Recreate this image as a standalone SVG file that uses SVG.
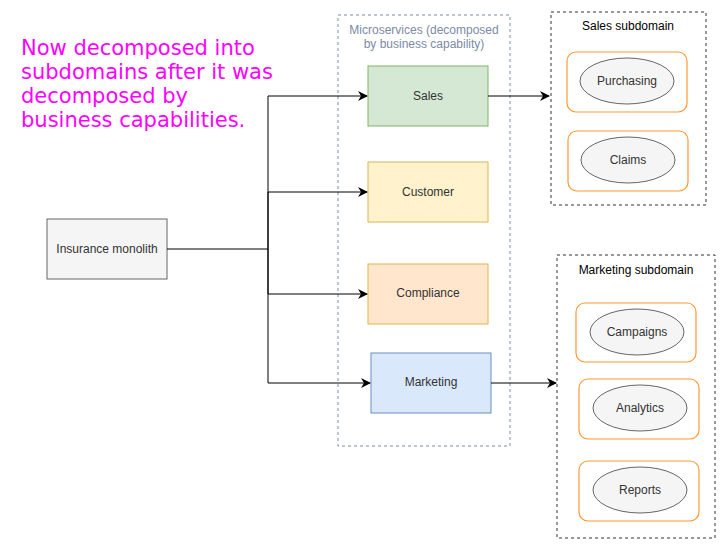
<svg xmlns="http://www.w3.org/2000/svg" width="724" height="547" viewBox="0 0 724 547">
<defs>
<marker id="arr" viewBox="0 0 10 10" refX="9" refY="5" markerWidth="10" markerHeight="10" markerUnits="userSpaceOnUse" orient="auto">
<path d="M0,0 L10,5 L0,10 L3,5 Z" fill="#000"/>
</marker>
</defs>
<style>
text{font-family:"Liberation Sans",Arial,sans-serif;font-size:12px;fill:#333;text-anchor:middle}
.title{font-family:"DejaVu Sans",sans-serif;font-size:21px;fill:#ff00ff;text-anchor:start}
.cont{fill:none;stroke:#333;stroke-dasharray:3 3}
.inner{fill:#fff;stroke:#ff9933;stroke-width:1.2}
.ell{fill:#f5f5f5;stroke:#666}
.conn{fill:none;stroke:#000;stroke-width:1}
</style>
<rect width="724" height="547" fill="#fff"/>
<g id="title">
<text class="title" x="21" y="55">Now decomposed into</text>
<text class="title" x="21" y="79">subdomains after it was</text>
<text class="title" x="21" y="103">decomposed by</text>
<text class="title" x="21" y="127">business capabilities.</text>
</g>
<g id="microservices">
<rect x="338" y="15" width="172" height="431" fill="none" stroke="#7c8aa5" stroke-dasharray="3 3"/>
<text x="424" y="34" style="fill:#7c8aa5">Microservices (decomposed</text>
<text x="424" y="48" style="fill:#7c8aa5">by business capability)</text>
</g>
<g id="sales">
<rect x="368" y="66" width="120" height="60" fill="#d5e8d4" stroke="#82b366"/>
<text x="428" y="100">Sales</text>
</g>
<g id="customer">
<rect x="368" y="162" width="120" height="60" fill="#fff2cc" stroke="#d6b656"/>
<text x="428" y="196">Customer</text>
</g>
<g id="compliance">
<rect x="368" y="264" width="120" height="60" fill="#ffe6cc" stroke="#e0b648"/>
<text x="428" y="297">Compliance</text>
</g>
<g id="marketing">
<rect x="371" y="353" width="120" height="60" fill="#dae8fc" stroke="#6c8ebf"/>
<text x="431" y="386">Marketing</text>
</g>
<g id="monolith">
<rect x="47" y="219" width="120" height="60" fill="#f5f5f5" stroke="#666"/>
<text x="107" y="253">Insurance monolith</text>
</g>
<g id="sales-subdomain">
<rect class="cont" x="551" y="12" width="155" height="193"/>
<text x="628" y="30" style="fill:#000">Sales subdomain</text>
</g>
<g id="purchasing">
<rect class="inner" x="567" y="52" width="120" height="60" rx="9"/>
<ellipse class="ell" cx="627" cy="81" rx="47" ry="23"/>
<text x="627" y="85">Purchasing</text>
</g>
<g id="claims">
<rect class="inner" x="568" y="131" width="120" height="60" rx="9"/>
<ellipse class="ell" cx="628" cy="160" rx="47" ry="23"/>
<text x="628" y="164">Claims</text>
</g>
<g id="marketing-subdomain">
<rect class="cont" x="557" y="255" width="158" height="283"/>
<text x="636" y="274" style="fill:#000">Marketing subdomain</text>
</g>
<g id="campaigns">
<rect class="inner" x="576" y="303" width="120" height="59" rx="9"/>
<ellipse class="ell" cx="637" cy="332" rx="47" ry="23"/>
<text x="637" y="336">Campaigns</text>
</g>
<g id="analytics">
<rect class="inner" x="579" y="379" width="120" height="60" rx="9"/>
<ellipse class="ell" cx="640" cy="408" rx="47" ry="23"/>
<text x="640" y="412">Analytics</text>
</g>
<g id="reports">
<rect class="inner" x="579" y="461" width="120" height="60" rx="9"/>
<ellipse class="ell" cx="640" cy="490" rx="47" ry="23"/>
<text x="640" y="494">Reports</text>
</g>
<g id="connectors">
<path class="conn" d="M167,249 H268 V96 H367" marker-end="url(#arr)"/>
<path class="conn" d="M268,249 V192 H367" marker-end="url(#arr)"/>
<path class="conn" d="M268,249 V294 H367" marker-end="url(#arr)"/>
<path class="conn" d="M268,249 V383 H370" marker-end="url(#arr)"/>
<path class="conn" d="M488,96 H549" marker-end="url(#arr)"/>
<path class="conn" d="M491,383 H556" marker-end="url(#arr)"/>
</g>
</svg>
